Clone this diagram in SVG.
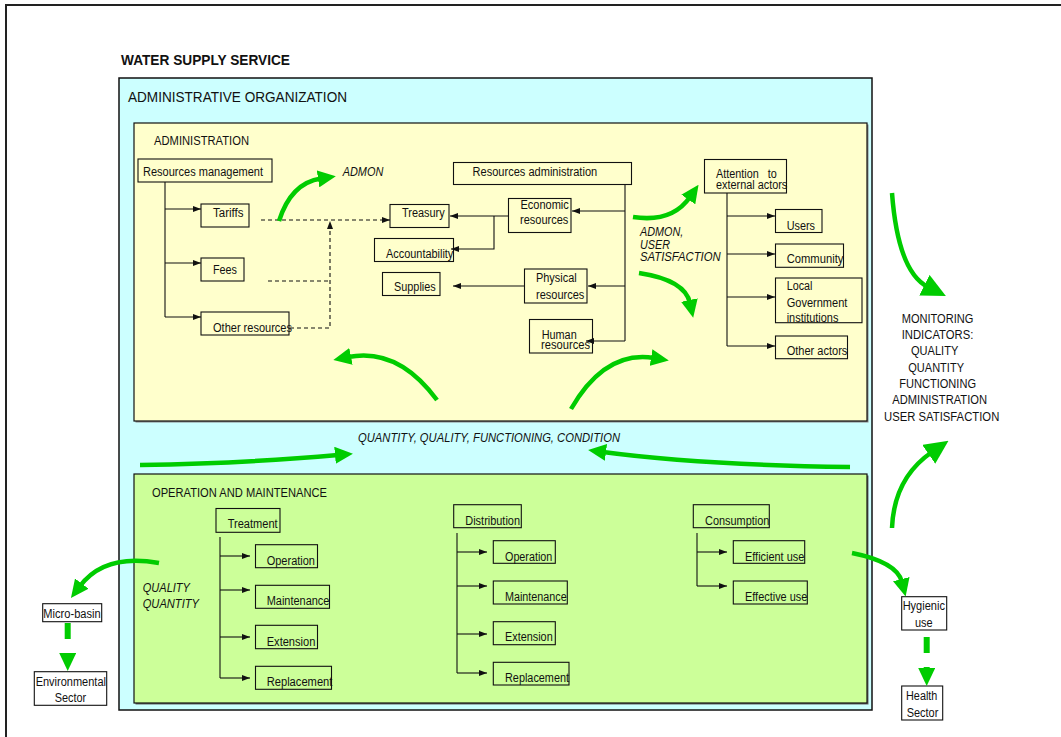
<svg xmlns="http://www.w3.org/2000/svg" width="1061" height="737" viewBox="0 0 1061 737">
<defs>
<style>
.t{font-family:"Liberation Sans",Arial,sans-serif;font-size:12.5px;fill:#111}
.it{font-style:italic}
.hd{font-size:15.5px}
.box{fill:none;stroke:#111;stroke-width:1.1}
.wbox{fill:#fff;stroke:#111;stroke-width:1.1}
.ln{fill:none;stroke:#111;stroke-width:1.1}
.dash{stroke-dasharray:4 3}
.g{fill:none;stroke:#00cc00;stroke-width:4.5}
.gd{fill:none;stroke:#00cc00;stroke-width:6;stroke-dasharray:16 14}
</style>
<marker id="ah" viewBox="0 0 8 6" refX="8" refY="3" markerWidth="8" markerHeight="6" markerUnits="userSpaceOnUse" orient="auto"><path d="M0,0 L8,3 L0,6 z" fill="#111"/></marker>
<marker id="gh" viewBox="0 0 18 17" refX="3" refY="8.5" markerWidth="18" markerHeight="17" markerUnits="userSpaceOnUse" orient="auto"><path d="M0,0 L18,8.5 L0,17 z" fill="#00cc00"/></marker>
<marker id="ghL" viewBox="0 0 24 23" refX="4" refY="11.5" markerWidth="24" markerHeight="23" markerUnits="userSpaceOnUse" orient="auto"><path d="M0,0 L24,11.5 L0,23 z" fill="#00cc00"/></marker>
</defs>

<rect width="1061" height="737" fill="#fff"/>
<rect x="6" y="5" width="1080" height="770" fill="none" stroke="#222" stroke-width="2"/>

<text class="t" x="121" y="65" style="font-size:15px;font-weight:bold" textLength="169" lengthAdjust="spacingAndGlyphs">WATER SUPPLY SERVICE</text>

<!-- containers -->
<g id="administrative-organization">
<rect x="119" y="78" width="753" height="632" fill="#ccffff" stroke="#111" stroke-width="1.5"/>
<text class="t hd" x="128" y="102" textLength="219" lengthAdjust="spacingAndGlyphs">ADMINISTRATIVE ORGANIZATION</text>
</g>
<g id="administration">
<rect x="135.5" y="124.5" width="733" height="298" fill="#888"/>
<rect x="134" y="123" width="733" height="298" fill="#ffffcc" stroke="#111" stroke-width="1.2"/>
<text class="t" x="154" y="145" textLength="95" lengthAdjust="spacingAndGlyphs">ADMINISTRATION</text>
</g>
<g id="operation-maintenance">
<rect x="135.5" y="475.5" width="733" height="229" fill="#666"/>
<rect x="134" y="474" width="733" height="229" fill="#ccff99" stroke="#111" stroke-width="1.2"/>
<text class="t" x="152" y="497" textLength="175" lengthAdjust="spacingAndGlyphs">OPERATION AND MAINTENANCE</text>
</g>

<!-- administration nodes -->
<g id="resources-management"><rect class="box" x="138" y="159" width="134" height="23"/><text class="t" x="143" y="176" textLength="120" lengthAdjust="spacingAndGlyphs">Resources management</text></g>
<g id="tariffs"><rect class="box" x="201" y="204" width="48" height="23"/><text class="t" x="213" y="216.5" textLength="30.5" lengthAdjust="spacingAndGlyphs">Tariffs</text></g>
<g id="fees"><rect class="box" x="201" y="258" width="43" height="23"/><text class="t" x="213" y="274" textLength="24" lengthAdjust="spacingAndGlyphs">Fees</text></g>
<g id="other-resources"><rect class="box" x="201" y="312" width="88" height="23"/><text class="t" x="213" y="332" textLength="79" lengthAdjust="spacingAndGlyphs">Other resources</text></g>
<g id="treasury"><rect class="box" x="390" y="204.5" width="59" height="23"/><text class="t" x="402" y="216.5" textLength="42.7" lengthAdjust="spacingAndGlyphs">Treasury</text></g>
<g id="accountability"><rect class="box" x="374.5" y="238.5" width="79" height="23"/><text class="t" x="386" y="258.3" textLength="67.3" lengthAdjust="spacingAndGlyphs">Accountability</text></g>
<g id="supplies"><rect class="box" x="382.5" y="272.5" width="57.5" height="23"/><text class="t" x="394" y="290.7" textLength="41.7" lengthAdjust="spacingAndGlyphs">Supplies</text></g>
<g id="resources-administration"><rect class="box" x="453.5" y="162.5" width="178" height="22"/><text class="t" x="472.5" y="176" textLength="124.7" lengthAdjust="spacingAndGlyphs">Resources administration</text></g>
<g id="economic-resources"><rect class="box" x="508.5" y="198.5" width="62.5" height="34"/><text class="t" x="520.5" y="209" textLength="48.3" lengthAdjust="spacingAndGlyphs">Economic</text><text class="t" x="520" y="224" textLength="48.3" lengthAdjust="spacingAndGlyphs">resources</text></g>
<g id="physical-resources"><rect class="box" x="524.5" y="269" width="62.5" height="34"/><text class="t" x="536" y="281.7" textLength="40.7" lengthAdjust="spacingAndGlyphs">Physical</text><text class="t" x="536" y="299.3" textLength="48.3" lengthAdjust="spacingAndGlyphs">resources</text></g>
<g id="human-resources"><rect class="box" x="529.5" y="319.5" width="63" height="33.5"/><text class="t" x="541.7" y="339" textLength="35" lengthAdjust="spacingAndGlyphs">Human</text><text class="t" x="541" y="349.3" textLength="49" lengthAdjust="spacingAndGlyphs">resources</text></g>
<g id="attention-external-actors"><rect class="box" x="704.5" y="159.5" width="82" height="33.5"/><text class="t" x="716" y="178.3" xml:space="preserve" textLength="60.7" lengthAdjust="spacingAndGlyphs">Attention   to</text><text class="t" x="716" y="189.3" textLength="71.3" lengthAdjust="spacingAndGlyphs">external actors</text></g>
<g id="users"><rect class="box" x="775.5" y="209.5" width="46.5" height="23"/><text class="t" x="786.7" y="230" textLength="28.3" lengthAdjust="spacingAndGlyphs">Users</text></g>
<g id="community"><rect class="box" x="775.5" y="244" width="68" height="23.3"/><text class="t" x="786.7" y="263.3" textLength="56.7" lengthAdjust="spacingAndGlyphs">Community</text></g>
<g id="local-government"><rect class="box" x="775.5" y="278" width="86.5" height="44.7"/><text class="t" x="786.7" y="290" textLength="25.7" lengthAdjust="spacingAndGlyphs">Local</text><text class="t" x="786.7" y="306.7" textLength="60.7" lengthAdjust="spacingAndGlyphs">Government</text><text class="t" x="786.7" y="321.7" textLength="51.7" lengthAdjust="spacingAndGlyphs">institutions</text></g>
<g id="other-actors"><rect class="box" x="775.5" y="336" width="72" height="22.7"/><text class="t" x="786.7" y="355" textLength="60.7" lengthAdjust="spacingAndGlyphs">Other actors</text></g>

<!-- operation and maintenance nodes -->
<g id="treatment"><rect class="box" x="216" y="508.5" width="64" height="23.8"/><text class="t" x="227.7" y="528.3" textLength="50" lengthAdjust="spacingAndGlyphs">Treatment</text></g>
<g id="treatment-operation"><rect class="box" x="255.5" y="544.7" width="62" height="23"/><text class="t" x="266.7" y="565" textLength="48.3" lengthAdjust="spacingAndGlyphs">Operation</text></g>
<g id="treatment-maintenance"><rect class="box" x="255.5" y="585.3" width="74" height="23"/><text class="t" x="266.7" y="605" textLength="62.7" lengthAdjust="spacingAndGlyphs">Maintenance</text></g>
<g id="treatment-extension"><rect class="box" x="255.5" y="625.3" width="62" height="23.4"/><text class="t" x="266.7" y="645.7" textLength="48.7" lengthAdjust="spacingAndGlyphs">Extension</text></g>
<g id="treatment-replacement"><rect class="box" x="255.5" y="666.3" width="76" height="23"/><text class="t" x="266.7" y="685.7" textLength="65.7" lengthAdjust="spacingAndGlyphs">Replacement</text></g>

<g id="distribution"><rect class="box" x="453.7" y="504.7" width="67.6" height="23"/><text class="t" x="465.3" y="525" textLength="54.7" lengthAdjust="spacingAndGlyphs">Distribution</text></g>
<g id="distribution-operation"><rect class="box" x="493.3" y="540.7" width="62" height="22.6"/><text class="t" x="505" y="561" textLength="47.3" lengthAdjust="spacingAndGlyphs">Operation</text></g>
<g id="distribution-maintenance"><rect class="box" x="493.3" y="581" width="74" height="23"/><text class="t" x="505" y="601" textLength="61.7" lengthAdjust="spacingAndGlyphs">Maintenance</text></g>
<g id="distribution-extension"><rect class="box" x="493.3" y="621.7" width="62" height="23"/><text class="t" x="505" y="640.7" textLength="47.7" lengthAdjust="spacingAndGlyphs">Extension</text></g>
<g id="distribution-replacement"><rect class="box" x="493.3" y="662.3" width="75.7" height="22.7"/><text class="t" x="505" y="681.7" textLength="64" lengthAdjust="spacingAndGlyphs">Replacement</text></g>

<g id="consumption"><rect class="box" x="693.3" y="504.7" width="76" height="23"/><text class="t" x="705" y="525" textLength="64.3" lengthAdjust="spacingAndGlyphs">Consumption</text></g>
<g id="efficient-use"><rect class="box" x="733.3" y="540.7" width="71.4" height="22.6"/><text class="t" x="745" y="560.7" textLength="59.3" lengthAdjust="spacingAndGlyphs">Efficient use</text></g>
<g id="effective-use"><rect class="box" x="733.3" y="581" width="74" height="23"/><text class="t" x="745" y="601" textLength="62.3" lengthAdjust="spacingAndGlyphs">Effective use</text></g>

<!-- outside sectors -->
<g id="micro-basin"><rect class="wbox" x="42.7" y="603.7" width="59" height="18"/><text class="t" x="72" y="617.7" text-anchor="middle" textLength="57.3" lengthAdjust="spacingAndGlyphs">Micro-basin</text></g>
<g id="environmental-sector"><rect class="wbox" x="34.3" y="671.7" width="72.4" height="33.6"/><text class="t" x="70.8" y="686" text-anchor="middle" textLength="70.3" lengthAdjust="spacingAndGlyphs">Environmental</text><text class="t" x="70.5" y="701.7" text-anchor="middle" textLength="31.5" lengthAdjust="spacingAndGlyphs">Sector</text></g>
<g id="hygienic-use"><rect class="wbox" x="901.7" y="596.7" width="45" height="33.3"/><text class="t" x="923.8" y="610" text-anchor="middle" textLength="42.3" lengthAdjust="spacingAndGlyphs">Hygienic</text><text class="t" x="923.8" y="626.7" text-anchor="middle" textLength="17.7" lengthAdjust="spacingAndGlyphs">use</text></g>
<g id="health-sector"><rect class="wbox" x="901.7" y="686" width="41" height="34"/><text class="t" x="921.7" y="700" text-anchor="middle" textLength="31.3" lengthAdjust="spacingAndGlyphs">Health</text><text class="t" x="922.5" y="716.7" text-anchor="middle" textLength="31.7" lengthAdjust="spacingAndGlyphs">Sector</text></g>

<g id="monitoring-indicators">
<text class="t" x="901.7" y="322.7" textLength="71.7" lengthAdjust="spacingAndGlyphs">MONITORING</text>
<text class="t" x="901.7" y="339" textLength="71.7" lengthAdjust="spacingAndGlyphs">INDICATORS:</text>
<text class="t" x="911" y="355.3" textLength="47.3" lengthAdjust="spacingAndGlyphs">QUALITY</text>
<text class="t" x="908.3" y="371.6" textLength="55.7" lengthAdjust="spacingAndGlyphs">QUANTITY</text>
<text class="t" x="899.3" y="387.6" textLength="76.7" lengthAdjust="spacingAndGlyphs">FUNCTIONING</text>
<text class="t" x="892.3" y="404" textLength="94.7" lengthAdjust="spacingAndGlyphs">ADMINISTRATION</text>
<text class="t" x="884" y="420.5" textLength="115.3" lengthAdjust="spacingAndGlyphs">USER SATISFACTION</text>
</g>

<!-- connectors -->
<g id="connectors">
<!-- resources management tree -->
<path class="ln" d="M165,182 V317"/>
<path class="ln" d="M165,209 H201" marker-end="url(#ah)"/>
<path class="ln" d="M165,263 H201" marker-end="url(#ah)"/>
<path class="ln" d="M165,317 H201" marker-end="url(#ah)"/>
<!-- resources flowing to treasury -->
<path class="ln dash" d="M261,220 H390" marker-end="url(#ah)"/>
<path class="ln dash" d="M268,281 H330"/>
<path class="ln dash" d="M290,328 H330 V221" marker-end="url(#ah)"/>
<!-- resources administration tree -->
<path class="ln" d="M625,185 V341"/>
<path class="ln" d="M625,211 H572" marker-end="url(#ah)"/>
<path class="ln" d="M625,286 H588" marker-end="url(#ah)"/>
<path class="ln" d="M625,341 H586" marker-end="url(#ah)"/>
<path class="ln" d="M508,216 H450" marker-end="url(#ah)"/>
<path class="ln" d="M494,216 V249 H451" marker-end="url(#ah)"/>
<path class="ln" d="M524,286 H453" marker-end="url(#ah)"/>
<!-- external actors tree -->
<path class="ln" d="M727,193 V346"/>
<path class="ln" d="M727,216 H775" marker-end="url(#ah)"/>
<path class="ln" d="M727,254 H775" marker-end="url(#ah)"/>
<path class="ln" d="M727,297 H775" marker-end="url(#ah)"/>
<path class="ln" d="M727,346 H775" marker-end="url(#ah)"/>
<!-- treatment tree -->
<path class="ln" d="M220,537 V678"/>
<path class="ln" d="M220,556 H250" marker-end="url(#ah)"/>
<path class="ln" d="M220,590 H250" marker-end="url(#ah)"/>
<path class="ln" d="M220,637 H250" marker-end="url(#ah)"/>
<path class="ln" d="M220,678 H250" marker-end="url(#ah)"/>
<!-- distribution tree -->
<path class="ln" d="M457,533 V673"/>
<path class="ln" d="M457,552 H487" marker-end="url(#ah)"/>
<path class="ln" d="M457,586 H487" marker-end="url(#ah)"/>
<path class="ln" d="M457,634 H487" marker-end="url(#ah)"/>
<path class="ln" d="M457,673 H487" marker-end="url(#ah)"/>
<!-- consumption tree -->
<path class="ln" d="M697,533 V586"/>
<path class="ln" d="M697,552 H727" marker-end="url(#ah)"/>
<path class="ln" d="M697,586 H727" marker-end="url(#ah)"/>

<!-- green flows -->
<path class="g" d="M279,221 Q291,183 321,178.5" marker-end="url(#gh)"/>
<path class="g" d="M633,217 Q672,223 690,197" marker-end="url(#gh)"/>
<path class="g" d="M639,273 Q685,280 690,303" marker-end="url(#gh)"/>
<path class="g" d="M437,400 Q398,347 348,357" marker-end="url(#gh)"/>
<path class="g" d="M571,409 Q605,350 654,358" marker-end="url(#gh)"/>
<path class="g" d="M140,465 Q250,463 338,455" marker-end="url(#gh)"/>
<path class="g" d="M850,467 Q700,465 603,452" marker-end="url(#gh)"/>
<path class="g" d="M892,193 Q898,272 928,287" marker-end="url(#ghL)"/>
<path class="g" d="M892,528 Q894,478 932,452" marker-end="url(#ghL)"/>
<path class="g" d="M159,563 Q105,553 80,586" marker-end="url(#gh)"/>
<path class="g" d="M852,553 Q897,562 902,582" marker-end="url(#gh)"/>
<path class="gd" d="M67.7,623 V656" marker-end="url(#gh)"/>
<path class="gd" d="M926.7,637 V671" marker-end="url(#gh)"/>
</g>

<!-- flow labels -->
<g id="flow-labels">
<text class="t it" x="342.7" y="176" textLength="40.6" lengthAdjust="spacingAndGlyphs">ADMON</text>
<text class="t it" x="640" y="236" textLength="43.3" lengthAdjust="spacingAndGlyphs">ADMON,</text>
<text class="t it" x="640" y="248.5" textLength="30" lengthAdjust="spacingAndGlyphs">USER</text>
<text class="t it" x="640" y="261" textLength="80.7" lengthAdjust="spacingAndGlyphs">SATISFACTION</text>
<text class="t it" x="358" y="442" textLength="262" lengthAdjust="spacingAndGlyphs">QUANTITY, QUALITY, FUNCTIONING, CONDITION</text>
<text class="t it" x="142.7" y="591.7" textLength="47.3" lengthAdjust="spacingAndGlyphs">QUALITY</text>
<text class="t it" x="142.7" y="608.3" textLength="56.3" lengthAdjust="spacingAndGlyphs">QUANTITY</text>
</g>
</svg>
